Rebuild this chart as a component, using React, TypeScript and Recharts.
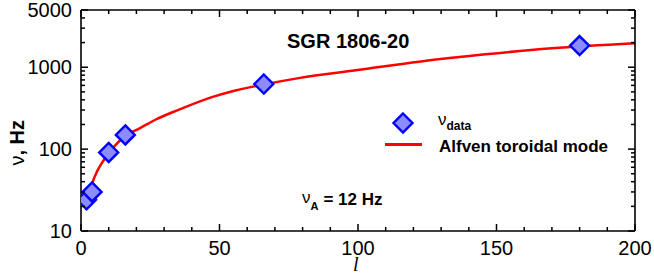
import React from "react";
import { ComposedChart, Line, Scatter, XAxis, YAxis } from "recharts";

// observed QPO frequencies (nu_data) vs. harmonic number l
const dataL = [2, 4, 10, 16, 66, 180];
const dataNu = [24, 30, 91, 149, 624, 1840];

// Alfven toroidal mode curve
const modeL = [2, 4, 6, 10, 16, 21, 27, 35, 47, 54, 66, 78, 102, 122, 146, 170, 200];
const modeNu = [21, 38, 55, 89, 145, 178, 230, 300, 429, 502, 615, 731, 942, 1167, 1437, 1702, 1960];

const xTicks = [0, 10, 20, 30, 40, 50, 60, 70, 80, 90, 100, 110, 120, 130, 140, 150, 160, 170, 180, 190, 200];
const xTickLabels = [0, 50, 100, 150, 200];
const yTicks = [10, 20, 30, 40, 50, 60, 70, 80, 90, 100, 200, 300, 400, 500, 600, 700, 800, 900, 1000, 2000, 3000, 4000, 5000];
const yTickLabels = [10, 100, 1000, 5000];

const points = dataL.map((l, i) => ({ l, nu: dataNu[i] }));
const curve = modeL.map((l, i) => ({ l, nu: modeNu[i] }));

const sans = '"Liberation Sans", Arial, Helvetica, sans-serif';
const serif = '"Liberation Serif", "Times New Roman", serif';
const markerFill = "#8c8cff";

const diamond = (cx: number, cy: number, r: number) =>
  `M${cx},${cy - r} L${cx + r},${cy} L${cx},${cy + r} L${cx - r},${cy} Z`;

function Marker(props: any) {
  const { cx, cy } = props;
  return <path d={diamond(cx, cy, 9.5)} fill={markerFill} stroke="#0000ff" strokeWidth={2.4} />;
}

function BottomTick(props: any) {
  const { x, y, payload } = props;
  const major = xTickLabels.includes(payload.value);
  const len = major ? 7 : 4;
  return (
    <g>
      <rect x={x - 0.75} y={y - len} width={1.5} height={len} fill="#000" />
      {major && (
        <text x={x} y={y + 24} textAnchor="middle" fontSize={20} fontFamily={sans} fill="#000">
          {payload.value}
        </text>
      )}
    </g>
  );
}

function TopTick(props: any) {
  const { x, y, payload } = props;
  const len = xTickLabels.includes(payload.value) ? 7 : 4;
  return <rect x={x - 0.75} y={y} width={1.5} height={len} fill="#000" />;
}

function LeftTick(props: any) {
  const { x, y, payload } = props;
  const major = yTickLabels.includes(payload.value);
  const len = major ? 7 : 4;
  return (
    <g>
      <rect x={x} y={y - 0.75} width={len} height={1.5} fill="#000" />
      {major && (
        <text x={x - 9} y={y + 7} textAnchor="end" fontSize={20} fontFamily={sans} fill="#000">
          {payload.value}
        </text>
      )}
    </g>
  );
}

function RightTick(props: any) {
  const { x, y, payload } = props;
  const len = yTickLabels.includes(payload.value) ? 7 : 4;
  return <rect x={x - len} y={y - 0.75} width={len} height={1.5} fill="#000" />;
}

const note: React.CSSProperties = {
  position: "absolute",
  fontFamily: sans,
  color: "#000",
  whiteSpace: "nowrap",
  lineHeight: 1,
};

export default function App() {
  return (
    <div style={{ position: "absolute", left: 0, top: 0, width: 654, height: 279, background: "#fff" }}>
      <ComposedChart width={654} height={279} margin={{ top: 9, right: 18, bottom: 0, left: 0 }}>
        <XAxis xAxisId="bottom" dataKey="l" type="number" domain={[0, 200]} allowDataOverflow ticks={xTicks} interval={0}
          height={48} axisLine={{ stroke: "#000", strokeWidth: 1.6 }} tickLine={false} tickSize={0} tickMargin={0} tick={BottomTick} />
        <XAxis xAxisId="top" dataKey="l" orientation="top" type="number" domain={[0, 200]} allowDataOverflow ticks={xTicks} interval={0}
          height={1} axisLine={{ stroke: "#000", strokeWidth: 1.6 }} tickLine={false} tickSize={0} tickMargin={0} tick={TopTick} />
        <YAxis yAxisId="left" type="number" scale="log" domain={[10, 5000]} allowDataOverflow ticks={yTicks} interval={0}
          width={81} axisLine={{ stroke: "#000", strokeWidth: 1.6 }} tickLine={false} tickSize={0} tickMargin={0} tick={LeftTick} />
        <YAxis yAxisId="right" orientation="right" type="number" scale="log" domain={[10, 5000]} allowDataOverflow ticks={yTicks} interval={0}
          width={1} axisLine={{ stroke: "#000", strokeWidth: 1.6 }} tickLine={false} tickSize={0} tickMargin={0} tick={RightTick} />
        <Line xAxisId="bottom" yAxisId="left" data={curve} dataKey="nu" type="monotone" stroke="#ff0000" strokeWidth={2.5}
          dot={false} isAnimationActive={false} />
        <Scatter xAxisId="top" yAxisId="right" data={points} dataKey="nu" fill={markerFill} shape={Marker}
          isAnimationActive={false} />
      </ComposedChart>

      <div style={{ ...note, left: 287, top: 31, fontSize: 20, fontWeight: "bold" }}>SGR 1806-20</div>
      <div style={{ ...note, left: 302, top: 191, fontSize: 17, fontWeight: "bold" }}>
        <span style={{ fontWeight: "normal", position: "relative", top: -2 }}>ν</span>
        <span style={{ fontSize: 11, position: "relative", top: 5, marginRight: 5 }}>A</span>= 12 Hz
      </div>
      <div
        style={{
          ...note,
          left: 17,
          top: 120,
          fontSize: 20,
          transform: "translate(-100%, -50%) rotate(-90deg)",
          transformOrigin: "100% 50%",
        }}
      >
        ν<b>, Hz</b>
      </div>
      <div style={{ ...note, left: 353, top: 254, fontSize: 20, fontStyle: "italic", fontFamily: serif }}>l</div>

      {/* legend */}
      <svg width={30} height={30} style={{ position: "absolute", left: 388, top: 108 }}>
        <path d={diamond(15, 15, 9.5)} fill={markerFill} stroke="#0000ff" strokeWidth={2.4} />
      </svg>
      <div style={{ ...note, left: 438, top: 111, fontSize: 17 }}>
        ν<span style={{ fontSize: 12, fontWeight: "bold", position: "relative", top: 5 }}>data</span>
      </div>
      <div style={{ position: "absolute", left: 385, top: 143, width: 37, height: 2.5, background: "#ff0000" }} />
      <div style={{ ...note, left: 439, top: 138, fontSize: 17, fontWeight: "bold" }}>Alfven toroidal mode</div>
    </div>
  );
}
